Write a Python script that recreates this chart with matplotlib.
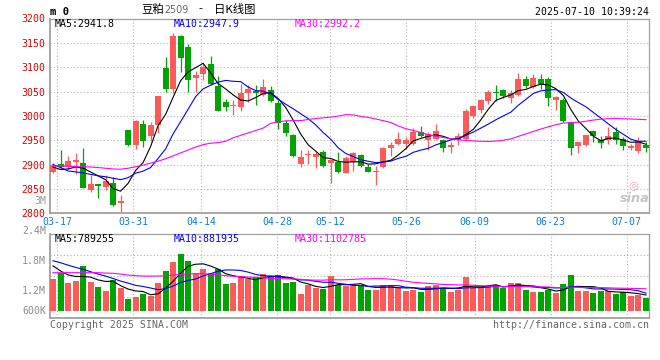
import numpy as np
import pandas as pd
import matplotlib
matplotlib.use("Agg")
import matplotlib.pyplot as plt

# ---- daily bars, 2025-03-14 .. 2025-07-10 (80 sessions) ----
opens = [2885, 2901, 2898, 2906, 2904, 2848, 2860, 2855, 2862, 2822,
         2971, 2941, 2984, 2959, 2981, 3099, 3055, 3164, 3142, 3078,
         3087, 3106, 3061, 3029, 3020, 3018, 3047, 3052, 3042, 3054,
         3026, 2985, 2960, 2902, 2919, 2915, 2925, 2904, 2906, 2883,
         2906, 2919, 2895, 2885, 2895, 2934, 2942, 2943, 2942, 2967,
         2951, 2952, 2950, 2936, 2950, 2953, 2999, 3013, 3031, 3050,
         3054, 3037, 3042, 3075, 3059, 3076, 3075, 3033, 3032, 2988,
         2939, 2940, 2968, 2950, 2950, 2966, 2953, 2935, 2928, 2941]
highs = [2904, 2930, 2917, 2923, 2935, 2878, 2861, 2878, 2875, 2837,
         2972, 2992, 2991, 2987, 3041, 3121, 3170, 3166, 3147, 3093,
         3107, 3124, 3081, 3035, 3032, 3066, 3063, 3063, 3075, 3061,
         3032, 2992, 2962, 2931, 2930, 2926, 2930, 2910, 2926, 2917,
         2926, 2921, 2901, 2897, 2936, 2947, 2966, 2957, 2975, 2979,
         2967, 2984, 2952, 2947, 2965, 3015, 3022, 3035, 3054, 3064,
         3056, 3054, 3088, 3081, 3087, 3087, 3080, 3040, 3037, 2989,
         2947, 2961, 2971, 2959, 2977, 2977, 2957, 2943, 2956, 2947]
lows = [2883, 2892, 2890, 2880, 2851, 2844, 2832, 2848, 2814, 2803,
        2938, 2933, 2936, 2949, 2964, 3050, 3047, 3090, 3050, 3049,
        3073, 3063, 3010, 3010, 3001, 3011, 3029, 3022, 3040, 3029,
        2973, 2958, 2916, 2895, 2902, 2893, 2895, 2863, 2882, 2882,
        2887, 2895, 2884, 2859, 2894, 2917, 2940, 2933, 2940, 2957,
        2930, 2950, 2926, 2924, 2940, 2951, 2996, 3005, 3025, 3030,
        3037, 3026, 3040, 3058, 3057, 3056, 3020, 3013, 2988, 2919,
        2924, 2938, 2947, 2935, 2943, 2943, 2930, 2930, 2924, 2926]
closes = [2900, 2896, 2907, 2909, 2852, 2860, 2857, 2867, 2818, 2825,
          2940, 2989, 2949, 2982, 3040, 3055, 3165, 3119, 3073, 3083,
          3100, 3065, 3011, 3018, 3022, 3047, 3055, 3047, 3059, 3031,
          2986, 2964, 2917, 2915, 2921, 2921, 2897, 2909, 2884, 2914,
          2924, 2898, 2885, 2887, 2934, 2940, 2953, 2950, 2967, 2959,
          2962, 2968, 2934, 2940, 2958, 3010, 3020, 3032, 3049, 3048,
          3041, 3046, 3076, 3061, 3078, 3065, 3037, 3038, 2990, 2934,
          2947, 2961, 2959, 2944, 2959, 2950, 2938, 2938, 2948, 2935]
volumes = [1591000, 1876000, 1390000, 1491000, 2245000, 1441000, 1173000, 1005000, 1541000, 1139000,
           586000, 704000, 854000, 720000, 1390000, 1993000, 2446000, 2848000, 2496000, 1893000,
           2094000, 1893000, 2077000, 1340000, 1390000, 1742000, 1608000, 1692000, 1843000, 1742000,
           1776000, 1390000, 1457000, 838000, 1273000, 1156000, 1106000, 1742000, 1290000, 1240000,
           1240000, 1290000, 1039000, 1039000, 1290000, 1290000, 1122000, 988000, 1039000, 938000,
           1255000, 1290000, 1155000, 955000, 1055000, 1710000, 1140000, 1120000, 1255000, 1290000,
           1155000, 1405000, 1405000, 1055000, 955000, 955000, 1055000, 905000, 1355000, 1794200,
           995000, 1000000, 895000, 993075, 990000, 838000, 938000, 737000, 787000, 646275]

# moving averages before the window has enough history
ma5_head = [2895, 2890, 2891, 2895]
ma10_head = [2900, 2894, 2887, 2885, 2883, 2880, 2877, 2875, 2872]
ma30_head = [2897.6, 2897, 2896.5, 2896, 2895.5, 2895, 2894, 2892.5, 2891, 2890.5,
             2892.5, 2895.5, 2899, 2903, 2907, 2912, 2918, 2924, 2930, 2936,
             2941, 2944, 2945, 2948, 2955, 2960, 2965, 2970, 2975]
vma5_head = [2250000, 2000000, 1800000, 1720000]
vma10_head = [2510000, 2410000, 2290000, 2180000, 2080000, 1960000, 1840000, 1740000, 1620000]
vma30_head = [1910000, 1910000, 1910000, 1910000, 1910000, 1910000, 1910000, 1890000, 1880000, 1840000,
              1790000, 1760000, 1740000, 1740000, 1740000, 1760000, 1790000, 1830000, 1840000, 1860000,
              1860000, 1840000, 1810000, 1760000, 1730000, 1710000, 1690000, 1680000, 1660000]

tick_idx = [1, 11, 20, 30, 37, 47, 56, 66, 76]
tick_lbl = ["03-17", "03-31", "04-14", "04-28", "05-12", "05-26", "06-09", "06-23", "07-07"]
vol_lbl = ["2.4M", "1.8M", "1.2M", "600K"]

RED, GREEN = "#ff5a5a", "#00a400"
MONO = "DejaVu Sans Mono"
W, H = 660, 360


def ma(vals, n, head):
    m = pd.Series(vals, dtype=float).rolling(n).mean().to_numpy()
    m[:len(head)] = head
    return m


def px(x, y):
    return x / W, 1 - y / H


o = np.array(opens); h = np.array(highs); l = np.array(lows); c = np.array(closes)
v = np.array(volumes, dtype=float)
x = np.arange(len(c))
up = c >= o
col = np.where(up, RED, GREEN)

fig = plt.figure(figsize=(6.6, 3.6), dpi=100)
axp = fig.add_axes([50 / W, 1 - 213.3 / H, 599 / W, (213.3 - 18.5) / H])
axv = fig.add_axes([50 / W, 1 - 317.7 / H, 599 / W, (317.7 - 234.3) / H])

grid_x = np.array(tick_idx) * 1.0113 - 0.45   # sina's date grid runs a bit wider than the bars
gkw = dict(color="#b4b4b4", linestyle=(0, (1, 2)), linewidth=0.8)

# ---------------- price panel ----------------
axp.vlines(x, l, h, colors=col, linewidth=0.9, zorder=2)
body = np.maximum(np.abs(c - o), 1.5)
axp.bar(x, body, bottom=np.minimum(o, c), width=0.8, color=col, linewidth=0, zorder=3)
axp.plot(x, ma(c, 5, ma5_head), color="black", lw=0.8, zorder=4)
axp.plot(x, ma(c, 10, ma10_head), color="#0000ff", lw=0.8, zorder=4)
axp.plot(x, ma(c, 30, ma30_head), color="#ff00ff", lw=0.8, zorder=4)
axp.set_xlim(-0.4, 79.4)
axp.set_ylim(2800, 3200)
axp.set_yticks(np.arange(2800, 3201, 50))
axp.set_xticks(grid_x)
axp.set_xticklabels(tick_lbl)
axp.tick_params(axis="y", length=0, pad=3.2, labelcolor="#e00000", labelsize=7.1)
axp.tick_params(axis="x", length=0, pad=2.6, labelcolor="#0a7fd0", labelsize=7.1)
for t in axp.get_xticklabels() + axp.get_yticklabels():
    t.set_family(MONO)
axp.grid(True, **gkw)
axp.set_axisbelow(True)

# ---------------- volume panel ----------------
axv.bar(x, v, width=0.8, color=col, linewidth=0, zorder=3)
axv.plot(x, ma(v, 5, vma5_head), color="black", lw=0.8, zorder=4)
axv.plot(x, ma(v, 10, vma10_head), color="#0000ff", lw=0.8, zorder=4)
axv.plot(x, ma(v, 30, vma30_head), color="#ff00ff", lw=0.8, zorder=4)
axv.set_xlim(-0.4, 79.4)
vlo, vhi = -352000, 3840000
axv.set_ylim(vlo, vhi)
axv.set_yticks([vlo + (vhi - vlo) * f for f in (0.25, 0.5, 0.75)])
axv.set_xticks(grid_x)
axv.tick_params(length=0, labelleft=False, labelbottom=False)
axv.grid(True, **gkw)
axv.set_axisbelow(True)

for ax in (axp, axv):
    for s in ("left", "bottom"):
        ax.spines[s].set_color("#a0a0a0"); ax.spines[s].set_linewidth(1.3)
    for s in ("top", "right"):
        ax.spines[s].set_color("#a0a0a0"); ax.spines[s].set_linewidth(0.9)

# ---------------- texts ----------------
def ftext(xp, yp, s, **kw):
    kw.setdefault("family", MONO)
    kw.setdefault("fontsize", 7.1)
    kw.setdefault("va", "center")
    fig.text(*px(xp, yp), s, **kw)

ftext(50.5, 12, "m 0", fontweight="bold", fontsize=7.6)
cjk = ["Noto Sans CJK SC", "DejaVu Sans"]
ftext(141.5, 9.5, "豆粕", family=cjk, fontsize=8.2)
ftext(164.5, 10, "2509", family="DejaVu Sans", fontsize=6.9, color="#666666")
ftext(198.5, 9.5, "-", family=cjk, fontsize=8.2)
ftext(214, 9.5, "日K线图", family=cjk, fontsize=8.2)
ftext(649, 12, "2025-07-10 10:39:24", ha="right")

ftext(55, 24.3, "MA5:%.1f" % np.mean(c[-5:]))
ftext(174, 24.3, "MA10:%.1f" % np.mean(c[-10:]), color="#0000ff")
ftext(295, 24.3, "MA30:%.1f" % np.mean(c[-30:]), color="#ff00ff")
ftext(46, 200.5, "3M", ha="right", color="#999999")

ftext(54.5, 238.5, "MA5:%d" % round(np.mean(v[-5:])))
ftext(174, 238.5, "MA10:%d" % round(np.mean(v[-10:])), color="#0000ff")
ftext(295, 238.5, "MA30:%d" % round(np.mean(v[-30:])), color="#ff00ff")
for lab, yy in zip(vol_lbl, [231, 261, 291, 311]):
    ftext(46, yy, lab, ha="right", color="#8c8c8c")

ftext(50, 324.5, "Copyright 2025 SINA.COM", color="#666666")
ftext(649, 324.5, "http://finance.sina.com.cn", ha="right", color="#666666")

# sina watermark
ftext(633, 185.5, "◎", family="DejaVu Sans", fontsize=8, color="#f2a8a8", ha="center")
ftext(635, 198, "sina", family="DejaVu Sans", fontsize=9.2, fontweight="bold",
      fontstyle="italic", color="#c4c4c4", ha="center")

fig.savefig("out.png", dpi=100)
